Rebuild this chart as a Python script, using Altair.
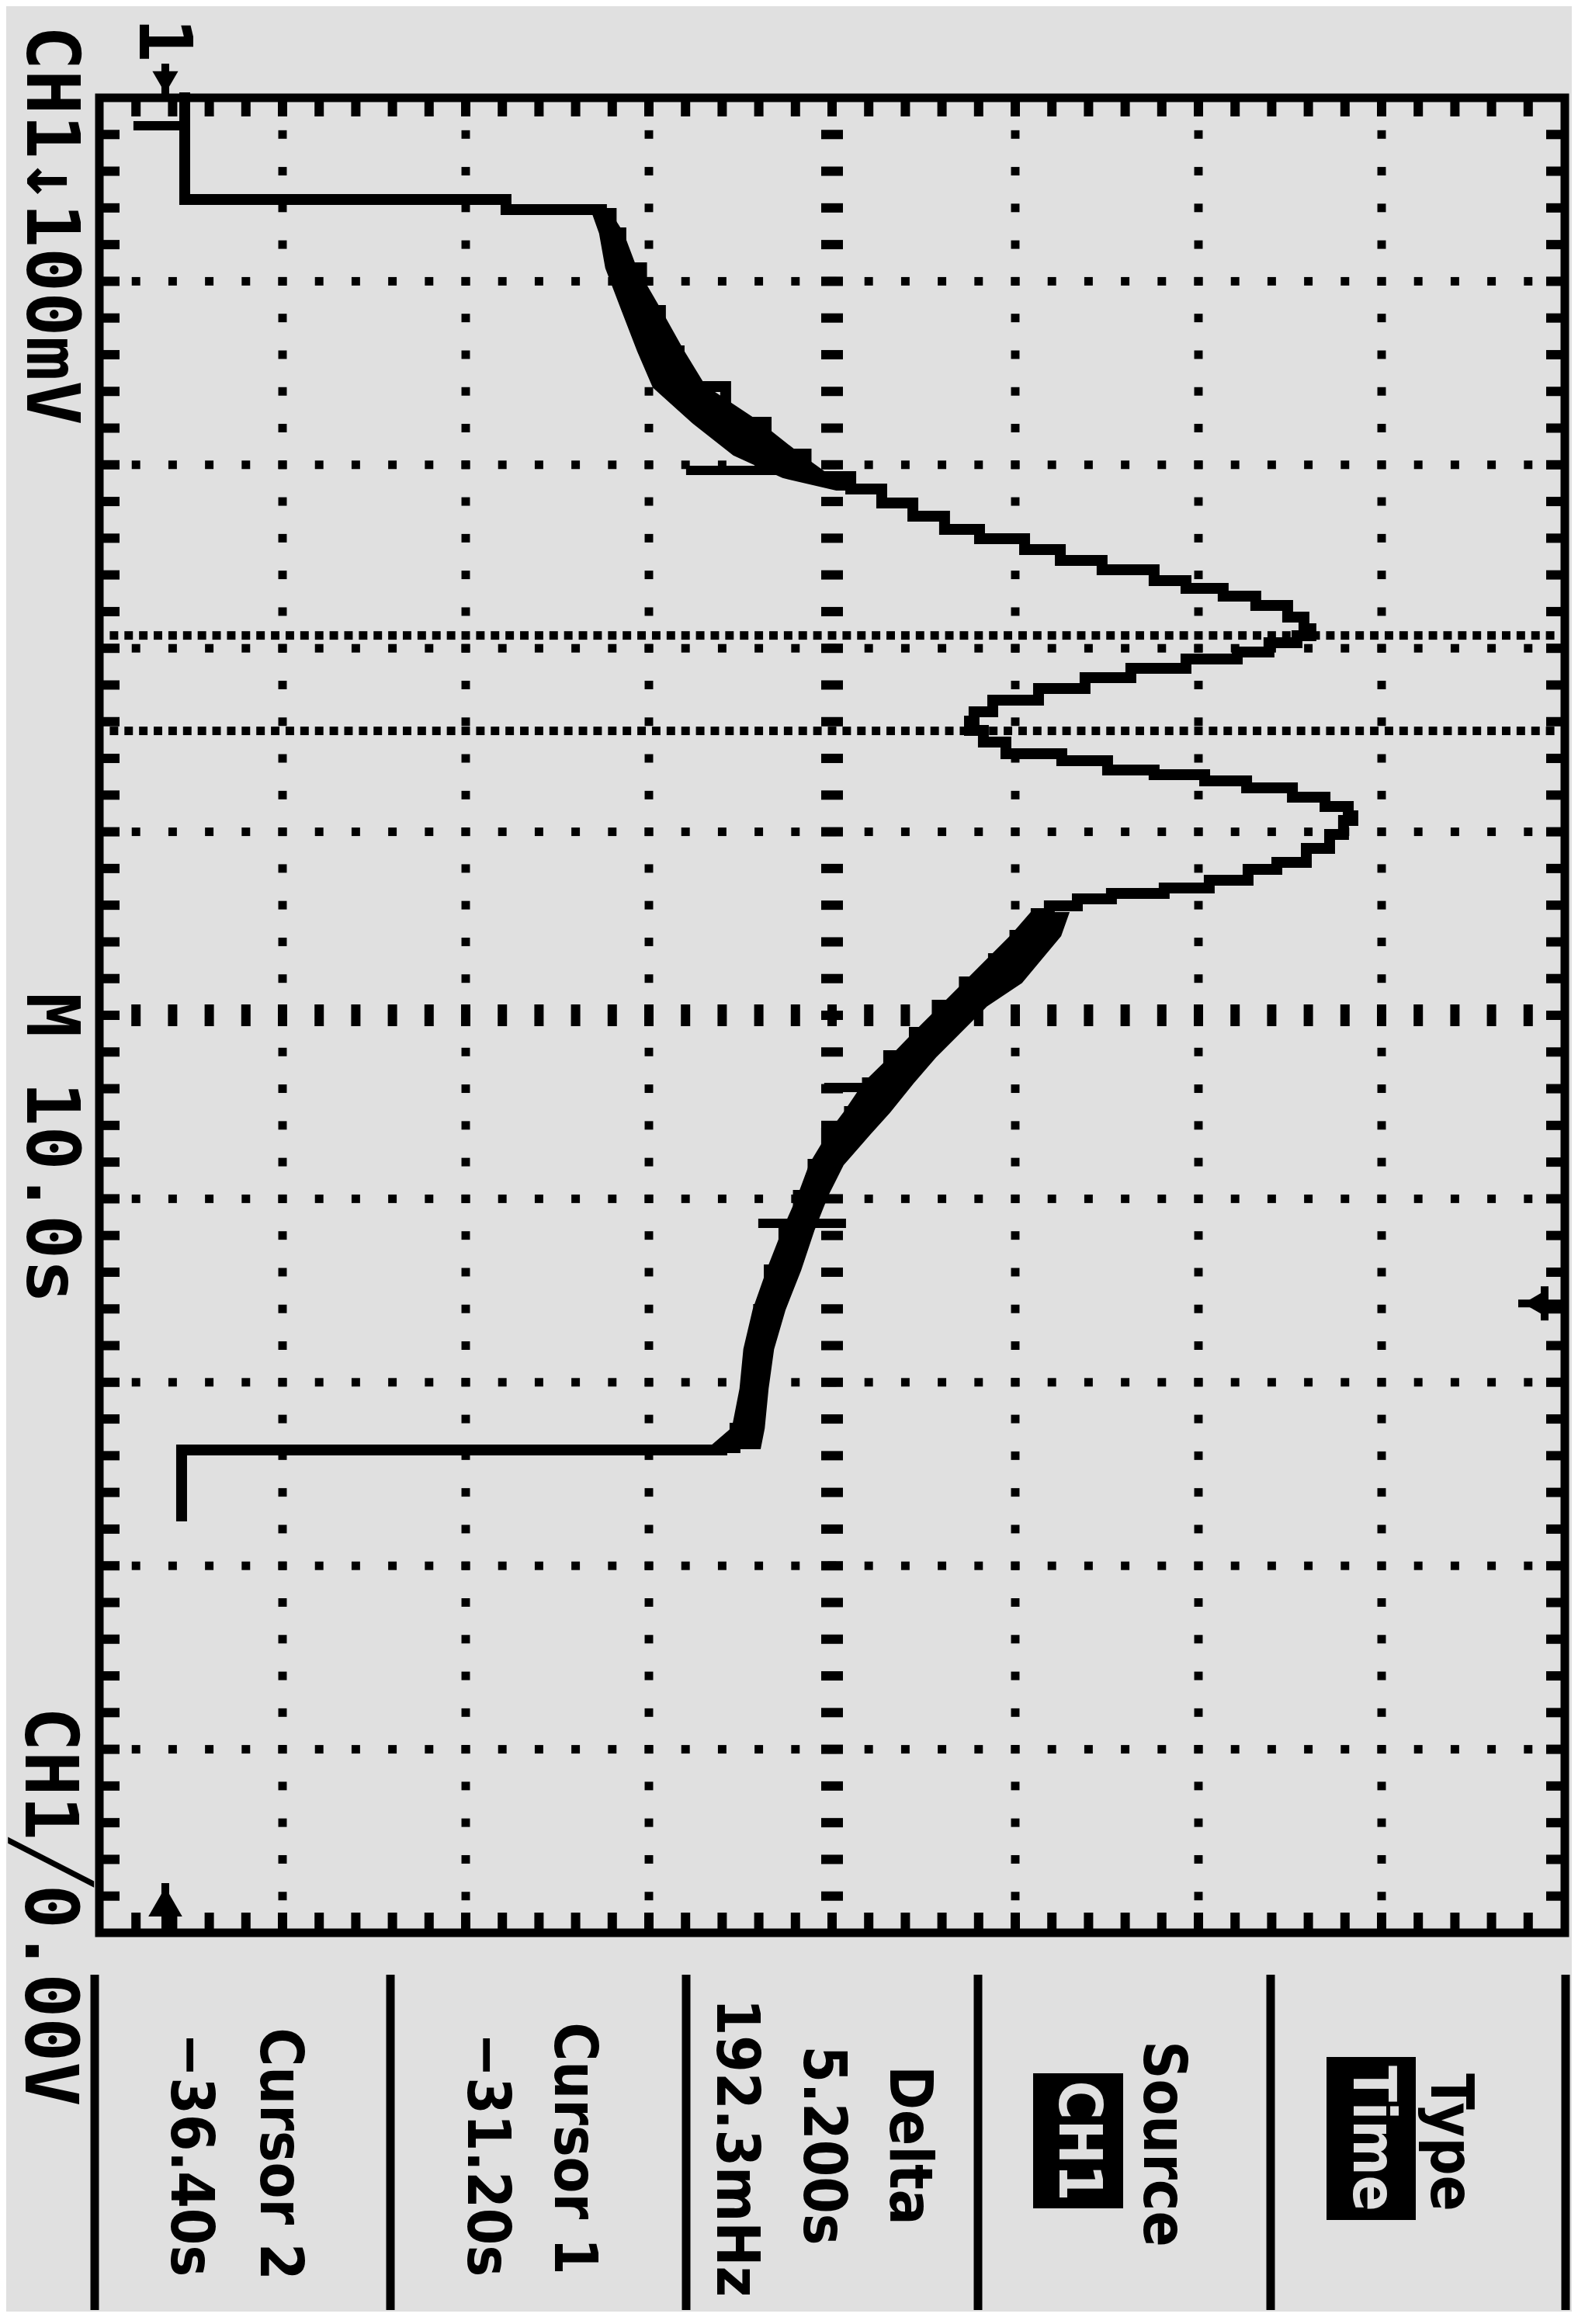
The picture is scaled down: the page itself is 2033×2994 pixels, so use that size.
import altair as alt
import pandas as pd

# ---------------- oscilloscope screen (photographed rotated 90 deg clockwise) ----------------
V_LEFT, V_RIGHT = -36.0, 764.0      # mV at the long edges of the graticule (CH1 100 mV/div, 8 div)
T_TOP, T_BOTTOM = -65.7, 34.3       # s at the short edges (M 10.0 s/div, 10 div)
V_DIV, T_DIV = 100.0, 10.0
CURSORS_T = [-36.40, -31.20]        # Cursor 2, Cursor 1
TRIGGER_T = 0.0
GROUND_V = 0.0

# main trace, acquisition order (time in s, voltage in mV)
TRACE_T = [-65.70, -60.16, -60.16, -59.61, -59.61, -59.40, -58.34, -56.44, -54.11, -51.91,
           -49.96, -48.02, -46.28, -45.06, -44.38, -43.62, -42.90, -42.18, -41.67, -41.08,
           -40.49, -39.98, -39.39, -38.97, -38.54, -38.04, -37.40, -36.77, -36.39, -36.00,
           -35.50, -35.12, -34.61, -34.10, -33.51, -32.87, -32.24, -31.73, -31.22, -30.59,
           -29.96, -29.57, -29.07, -28.81, -28.48, -28.09, -27.59, -27.08, -26.57, -26.32,
           -25.56, -24.79, -24.03, -23.65, -23.06, -22.64, -22.34, -22.05, -21.66, -21.24,
           -20.06, -18.79, -17.52, -16.25, -14.77, -13.50, -12.02, -10.45, -9.27, -7.58,
           -5.89, -3.98, -1.82, 0.33, 2.49, 4.65, 6.80, 7.86, 7.99, 8.16, 11.58]
TRACE_V = [10.6, 10.6, 186.0, 186.0, 233.1, 238.1, 243.4, 248.7, 260.0, 270.3,
           280.5, 305.9, 328.0, 349.8, 374.2, 391.1, 408.1, 425.4, 444.5, 469.1,
           488.6, 511.4, 539.8, 557.2, 577.5, 595.3, 612.7, 621.6, 625.4, 617.8,
           602.5, 585.2, 557.2, 527.1, 502.1, 476.7, 451.7, 441.5, 439.0, 446.6,
           458.9, 489.4, 514.4, 539.8, 567.4, 590.3, 615.3, 633.1, 645.8, 648.3,
           643.2, 635.6, 622.9, 606.8, 591.1, 569.9, 545.3, 516.5, 497.9, 482.6,
           475.4, 463.8, 452.1, 436.2, 421.4, 408.9, 394.9, 383.3, 373.5, 361.0,
           353.6, 345.6, 337.7, 329.7, 323.9, 321.4, 318.2, 311.0, 303.8, 8.9, 8.9]

# jittery (thick) parts of the trace: envelope lo / hi
BAND_A_T = [-59.40, -58.34, -56.44, -54.11, -51.91, -49.96, -48.02, -46.28, -45.06, -44.38]
BAND_A_LO = [233.8, 237.6, 241.0, 249.9, 258.4, 266.8, 288.4, 310.5, 337.2, 366.4]
BAND_A_HI = [242.5, 249.3, 256.5, 270.0, 282.3, 294.2, 323.4, 345.5, 362.4, 381.9]
BAND_B_T = [-21.24, -20.06, -18.79, -17.52, -16.25, -14.77, -13.50, -12.02, -10.45, -9.27,
            -7.58, -5.89, -3.98, -1.82, 0.33, 2.49, 4.65, 6.80, 7.86]
BAND_B_LO = [472.8, 462.6, 449.9, 437.2, 424.5, 409.6, 397.3, 382.1, 371.5, 362.6,
             352.4, 346.1, 337.6, 329.1, 321.5, 316.4, 314.3, 310.1, 297.8]
BAND_B_HI = [492.5, 488.3, 477.7, 467.1, 448.0, 433.2, 420.5, 407.7, 395.0, 384.4,
             369.6, 361.1, 353.5, 346.3, 337.8, 331.5, 328.5, 326.4, 324.3]

# single-sample glitches drawn as short flat strokes
STUB_T = [-64.18, -45.40, -11.77, -4.36]
STUB_V1 = [-17.4, 284.3, 359.7, 323.7]
STUB_V2 = [10.6, 352.1, 382.2, 371.6]

# readouts
LEFT_LABELS = ["CH1\u2193100mV", "M 10.0s", "CH1\u25710.00V"]
MENU_LABELS = ["Type", "Time", "Source", "CH1", "Delta", "5.200s", "192.3mHz",
               "Cursor 1", "\u221231.20s", "Cursor 2", "\u221236.40s"]

BG = "#e0e0e0"
INK = "#000000"
MONO = "DejaVu Sans Mono"
NARROW = "DejaVu Sans Condensed"

# ---------------- derived tables ----------------
xs = alt.Scale(domain=[V_LEFT, V_RIGHT], nice=False, zero=False)
ys = alt.Scale(domain=[T_TOP, T_BOTTOM], nice=False, zero=False, reverse=True)


def X(f):
    return alt.X(f, scale=xs, axis=None)


def Y(f):
    return alt.Y(f, scale=ys, axis=None)


t_minor = [T_TOP + T_DIV / 5 * j for j in range(1, 50)]
v_minor = [V_LEFT + V_DIV / 5 * j for j in range(1, 40)]
v_center = V_LEFT + 4 * V_DIV
t_center = T_TOP + 5 * T_DIV
v_major = [V_LEFT + V_DIV * k for k in range(1, 8) if k != 4]
t_major = [T_TOP + T_DIV * k for k in range(1, 10) if k != 5]

grid_rows = [{"v": v, "t": t} for v in v_major for t in t_minor]
grid_rows += [{"v": v, "t": t} for t in t_major for v in v_minor]
grid_df = pd.DataFrame(grid_rows)

cursor_df = pd.DataFrame([{"v": V_LEFT + 8 * k, "t": c} for c in CURSORS_T for k in range(1, 100)])
ccol_df = pd.DataFrame({"v": [v_center] * len(t_minor), "t": t_minor})
crow_df = pd.DataFrame({"v": v_minor, "t": [t_center] * len(v_minor)})
left_df = pd.DataFrame({"v": [V_LEFT] * len(t_minor), "t": t_minor})
right_df = pd.DataFrame({"v": [V_RIGHT] * len(t_minor), "t": t_minor})
top_df = pd.DataFrame({"v": v_minor, "t": [T_TOP] * len(v_minor)})
bot_df = pd.DataFrame({"v": v_minor, "t": [T_BOTTOM] * len(v_minor)})

trace_df = pd.DataFrame({"i": range(len(TRACE_T)), "t": TRACE_T, "v": TRACE_V})
band_df = pd.concat([
    pd.DataFrame({"seg": "a", "t": BAND_A_T, "lo": BAND_A_LO, "hi": BAND_A_HI}),
    pd.DataFrame({"seg": "b", "t": BAND_B_T, "lo": BAND_B_LO, "hi": BAND_B_HI}),
])
stub_df = pd.DataFrame({"t": STUB_T, "v1": STUB_V1, "v2": STUB_V2})
ground_df = pd.DataFrame({"v": [GROUND_V]})
trig_df = pd.DataFrame({"t": [TRIGGER_T]})

sq = dict(color=INK, opacity=1, filled=True)


def tick(df, orient, size, **kw):
    return alt.Chart(df).mark_tick(orient=orient, size=size, thickness=12, color=INK, opacity=1, **kw) \
        .encode(x=X("v:Q"), y=Y("t:Q"))


layers = [
    alt.Chart(grid_df).mark_square(size=120, **sq).encode(x=X("v:Q"), y=Y("t:Q")),
    alt.Chart(cursor_df).mark_square(size=120, **sq).encode(x=X("v:Q"), y=Y("t:Q")),
    tick(ccol_df, "horizontal", 28),
    tick(crow_df, "vertical", 28),
    tick(left_df, "horizontal", 22, xOffset=15),
    tick(right_df, "horizontal", 20, xOffset=-14),
    tick(top_df, "vertical", 20, yOffset=14),
    tick(bot_df, "vertical", 22, yOffset=-15),
    # trace
    alt.Chart(band_df).mark_area(orient="horizontal", color=INK, opacity=1, stroke=INK, strokeWidth=4)
    .encode(y=Y("t:Q"), x=X("lo:Q"), x2="hi:Q", detail="seg:N"),
    alt.Chart(trace_df).mark_line(color=INK, strokeWidth=14, interpolate="step-after",
                                  strokeJoin="miter", strokeCap="square")
    .encode(x=X("v:Q"), y=Y("t:Q"), order="i:Q"),
    alt.Chart(stub_df).mark_rule(color=INK, strokeWidth=12)
    .encode(x=X("v1:Q"), x2="v2:Q", y=Y("t:Q")),
    # ground marker (top edge)
    alt.Chart(ground_df).mark_point(shape="triangle-down", size=1100, **sq)
    .encode(x=X("v:Q"), y=alt.value(-20)),
    alt.Chart(ground_df).mark_rule(color=INK, strokeWidth=10)
    .encode(x=X("v:Q"), y=alt.value(-44), y2=alt.value(0)),
    # trigger level marker (bottom edge)
    alt.Chart(ground_df).mark_point(shape="triangle-up", size=1900, **sq)
    .encode(x=X("v:Q"), y=alt.value(2324)),
    alt.Chart(ground_df).mark_rule(color=INK, strokeWidth=10)
    .encode(x=X("v:Q"), y=alt.value(2300), y2=alt.value(2364)),
    # trigger position marker (right edge)
    alt.Chart(trig_df).mark_point(shape="triangle-left", size=1300, **sq)
    .encode(y=Y("t:Q"), x=alt.value(1850)),
    alt.Chart(trig_df).mark_rule(color=INK, strokeWidth=10)
    .encode(y=Y("t:Q"), x=alt.value(1828), x2=alt.value(1888)),
    alt.Chart(trig_df).mark_tick(orient="vertical", size=44, thickness=10, color=INK, opacity=1)
    .encode(y=Y("t:Q"), x=alt.value(1862)),
]


def label(txt, px, py, font, size, color=INK, align="left", weight="bold"):
    return alt.Chart(pd.DataFrame({"s": [txt]})).mark_text(
        angle=90, font=font, fontSize=size, fontWeight=weight, color=color,
        align=align, baseline="alphabetic",
    ).encode(x=alt.value(px), y=alt.value(py), text="s:N")


def box(x1, x2, y1, y2):
    return alt.Chart(pd.DataFrame({"k": [0]})).mark_rect(color=INK, opacity=1).encode(
        x=alt.value(x1), x2=alt.value(x2), y=alt.value(y1), y2=alt.value(y2))


def sep(px):
    return alt.Chart(pd.DataFrame({"k": [0]})).mark_rule(color=INK, strokeWidth=11).encode(
        x=alt.value(px), y=alt.value(2418), y2=alt.value(2850))


# left-hand readouts
layers += [
    label(LEFT_LABELS[0], -93, -93, MONO, 95),
    label(LEFT_LABELS[1], -93, 1153, MONO, 95),
    label(LEFT_LABELS[2], -95, 2073, MONO, 95),
    label("1", 52, -103, MONO, 95),
]

# menu at the bottom
layers += [sep(px) for px in [-6, 375, 756, 1132, 1509, 1889]]
layers += [box(1581, 1696, 2524, 2734), box(1203, 1319, 2545, 2719)]
menu_pos = [(1716, 2634, INK), (1616, 2629, BG), (1346, 2636, INK), (1237, 2632, BG),
            (1019, 2638, INK), (908, 2638, INK), (796, 2641, INK), (587, 2642, INK),
            (475, 2650, INK), (208, 2649, INK), (93, 2650, INK)]
for txt, (px, py, col) in zip(MENU_LABELS, menu_pos):
    layers.append(label(txt, px, py, NARROW, 76, color=col, align="center"))

chart = alt.layer(*layers).properties(
    width=1888,
    height=2364,
    padding={"left": 120, "top": 118, "right": 9, "bottom": 488},
    autosize=alt.AutoSizeParams(type="none"),
    background=BG,
).configure_view(stroke=INK, strokeWidth=11)

chart.save("out.html", embed_options={"renderer": "svg", "actions": False})
